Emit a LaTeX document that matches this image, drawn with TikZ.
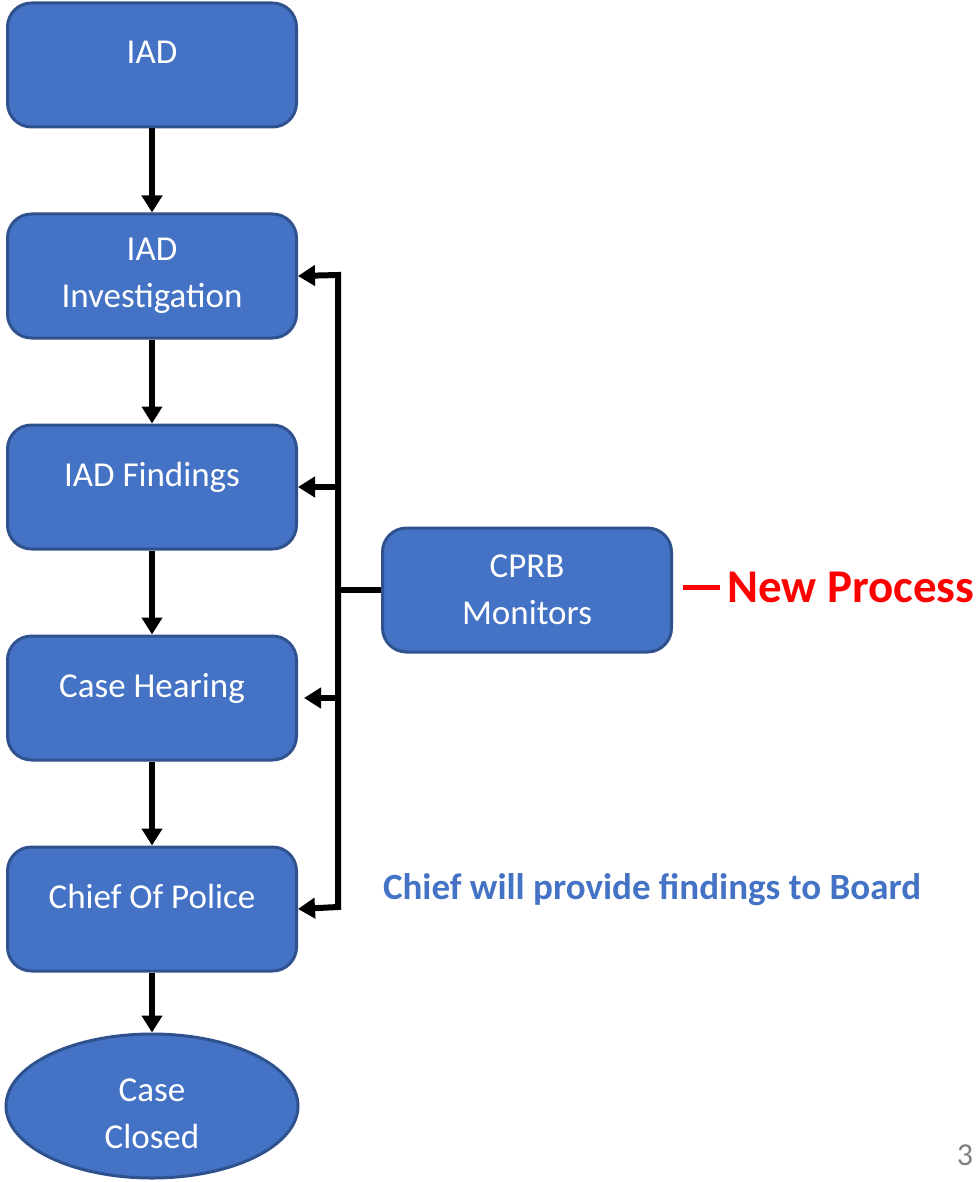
\documentclass[tikz,border=0pt]{standalone}
\usepackage{fontspec}
\setmainfont{Carlito}
\usetikzlibrary{positioning, arrows.meta, shapes.geometric}
\definecolor{boxblue}{HTML}{4472C4}
\definecolor{boxedge}{HTML}{2F528F}
\tikzset{
        x=1pt, y=1pt,
        node distance=211pt, % centre to centre of the boxes
        process/.style={rectangle, rounded corners=24pt, draw=boxedge, line width=3pt,
          fill=boxblue, text=white, minimum width=289pt, minimum height=124pt,
          align=center, font=\fontsize{35}{47}\selectfont},
        oneline/.style={text depth=26pt}, % lifts a single line a bit
        flow/.style={-{Triangle[length=17pt,width=20pt]}, line width=6pt},
        note/.style={inner sep=0pt, font=\bfseries\fontsize{37}{44}\selectfont},
    }
\begin{document}
\begin{tikzpicture}
    \useasboundingbox (0,0) rectangle (977,-1182);
    \node[process, oneline] (iad) at (152,-65) {IAD};
    \node[process, below of=iad] (inv) {IAD\\Investigation};
    \node[process, oneline, below of=inv] (findings) {IAD Findings};
    \node[process, oneline, below of=findings] (hearing) {Case Hearing};
    \node[process, oneline, below of=hearing] (chief) {Chief Of Police};
    \node[process, ellipse, node distance=197pt, below of=chief, minimum width=292pt,
          minimum height=144pt, text height=85pt, inner sep=0pt] (closed) {Case\\Closed};
    \node[process, at={(527,-590)}] (cprb) {CPRB\\Monitors};

    \node[note, text=boxblue, at={(652,-890)}] (chiefnote) {Chief will provide findings to Board};
    \node[note, text=red, font=\bfseries\fontsize{47}{56}\selectfont, anchor=west,
          at={(727,-587)}] (newproc) {New Process};
    \node[inner sep=0pt, text=gray, font=\fontsize{32}{38}\selectfont, at={(965,-1155)}] (page) {3};

    % main line
    \draw[flow] (iad) -- (inv);
    \draw[flow] (inv) -- (findings);
    \draw[flow] (findings) -- (hearing);
    \draw[flow] (hearing) -- (chief);
    \draw[flow] (chief) -- (closed);

    % monitoring bus
    \coordinate (bustop) at (338,-275);
    \coordinate (busbot) at (338,-907);
    \draw[flow, {Triangle[length=17pt,width=20pt]}-{Triangle[length=17pt,width=20pt]}, line join=miter]
          (inv.east) -- (bustop) -- (busbot) -- (chief.east);
    \draw[flow] (bustop |- findings.east) -- (findings.east);
    \draw[flow, shorten >=6pt] (bustop |- hearing.east) -- (hearing.east);
    \draw[line width=6pt] (cprb.west) -- (cprb.west -| bustop);
    \draw[red, line width=5pt, shorten <=10pt, shorten >=7pt] (newproc.west -| cprb.east) -- (newproc.west);
\end{tikzpicture}
\end{document}
